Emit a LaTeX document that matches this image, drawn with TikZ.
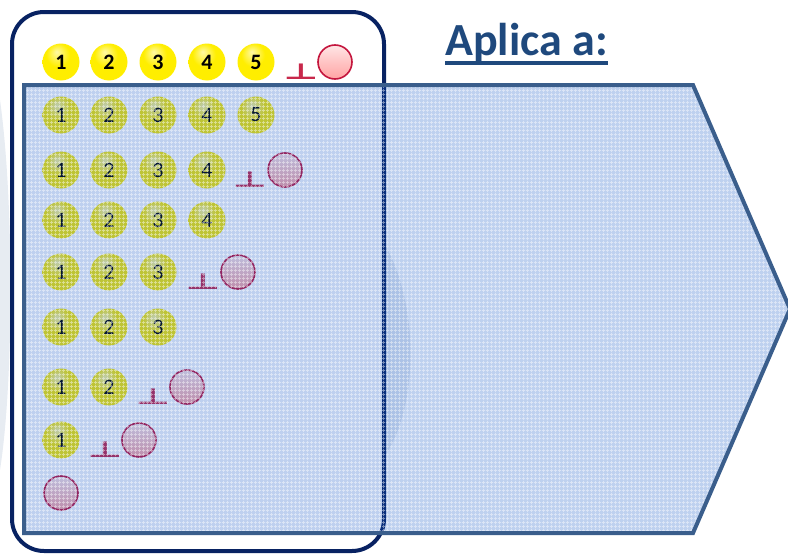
\documentclass[tikz,border=0pt]{standalone}
\usepackage{fontspec}
\setmainfont{Carlito}
\newfontfamily\symfont{DejaVu Sans}
\usetikzlibrary{patterns.meta}
\definecolor{framenavy}{RGB}{8,34,98}
\definecolor{arrowedge}{RGB}{58,94,140}
\definecolor{arrowfill}{RGB}{15,84,196}
\definecolor{titleblue}{RGB}{31,73,125}
\definecolor{ringred}{RGB}{196,22,62}
\definecolor{tackred}{RGB}{200,40,75}
\definecolor{hazeblue}{RGB}{160,178,205}
\definecolor{ballyellow}{RGB}{255,238,0}
\definecolor{balledge}{RGB}{222,190,0}
\pgfdeclareradialshading{ballshade}{\pgfpoint{-6bp}{14bp}}{color(0bp)=(ballyellow!35!white); color(16bp)=(ballyellow); color(40bp)=(ballyellow); color(50bp)=(balledge)}

\begin{document}
\begin{tikzpicture}[x=1pt,y=1pt]
\tikzstyle{every node}+=[inner sep=0pt]
\tikzstyle{ball}=[circle, minimum size=37pt, shading=ballshade, font=\fontsize{22}{22}\selectfont]
\tikzstyle{ballup}=[ball, font=\bfseries\fontsize{22}{22}\selectfont]
\tikzstyle{ring}=[circle, minimum size=34pt, draw=ringred, line width=1.6pt, top color=red!10!white, bottom color=red!36!white]
\tikzstyle{tack}=[anchor=base, text=tackred, font=\symfont\bfseries\fontsize{38}{38}\selectfont, yscale=0.58, transform shape]
\tikzstyle{frame}=[draw=framenavy, fill=white, line width=4pt, rounded corners=32pt]
\tikzstyle{haze}=[fill=hazeblue, fill opacity=0.25]
\useasboundingbox (0,0) rectangle (788,-554);
% faint background shape
\fill [haze] (0,-100) .. controls (14,-200) and (14,-380) .. (0,-470) -- cycle;
\fill [haze] (382,-240) .. controls (420,-300) and (420,-410) .. (382,-460) -- cycle;
% frame
\draw [frame] (12,-12) rectangle (384,-551);
% top row
\node [ballup] (t1) at (61,-62) {1};
\node [ballup] (t2) at (109,-62) {2};
\node [ballup] (t3) at (158,-62) {3};
\node [ballup] (t4) at (207,-62) {4};
\node [ballup] (t5) at (256,-62) {5};
\node [tack] (tb) at (301,-79) {⊥};
\node [ring] (tr) at (335,-62) {};
% row 2
\node [ball] (b21) at (61,-115) {1};
\node [ball] (b22) at (109,-115) {2};
\node [ball] (b23) at (158,-115) {3};
\node [ball] (b24) at (207,-115) {4};
\node [ball] (b25) at (256,-115) {5};
% row 3
\node [ball] (b31) at (61,-170) {1};
\node [ball] (b32) at (109,-170) {2};
\node [ball] (b33) at (158,-170) {3};
\node [ball] (b34) at (207,-170) {4};
\node [tack] (s3) at (250,-187) {⊥};
\node [ring] (c3) at (285,-170) {};
% row 4
\node [ball] (b41) at (61,-220) {1};
\node [ball] (b42) at (109,-220) {2};
\node [ball] (b43) at (158,-220) {3};
\node [ball] (b44) at (207,-220) {4};
% row 5
\node [ball] (b51) at (61,-272) {1};
\node [ball] (b52) at (109,-272) {2};
\node [ball] (b53) at (158,-272) {3};
\node [tack] (s5) at (203,-289) {⊥};
\node [ring] (c5) at (238,-272) {};
% row 6
\node [ball] (b61) at (61,-327) {1};
\node [ball] (b62) at (109,-327) {2};
\node [ball] (b63) at (158,-327) {3};
% row 7
\node [ball] (b71) at (61,-387) {1};
\node [ball] (b72) at (109,-387) {2};
\node [tack] (s7) at (153,-404) {⊥};
\node [ring] (c7) at (187,-387) {};
% row 8
\node [ball] (b81) at (61,-440) {1};
\node [tack] (s8) at (105,-457) {⊥};
\node [ring] (c8) at (139,-440) {};
% row 9
\node [ring] (c9) at (61,-493) {};
% arrow
\fill [arrowfill, fill opacity=0.27] (24,-85) -- (693,-85) -- (790,-309) -- (693,-533) -- (24,-533) -- cycle;
\fill [pattern={Hatch[angle=0,distance=4pt,line width=0.9pt]}, pattern color=white, fill opacity=0.45] (24,-85) -- (693,-85) -- (790,-309) -- (693,-533) -- (24,-533) -- cycle;
\draw [arrowedge, line width=4pt] (24,-85) -- (693,-85) -- (790,-309) -- (693,-533) -- (24,-533) -- cycle;
% title
\node [anchor=base west, text=titleblue, font=\bfseries\fontsize{46}{46}\selectfont] (aplica) at (445,-55) {Aplica a:};
\draw [titleblue, line width=3.5pt] ([yshift=-8pt]aplica.base west) -- ([yshift=-8pt]aplica.base east);
\end{tikzpicture}
\end{document}
